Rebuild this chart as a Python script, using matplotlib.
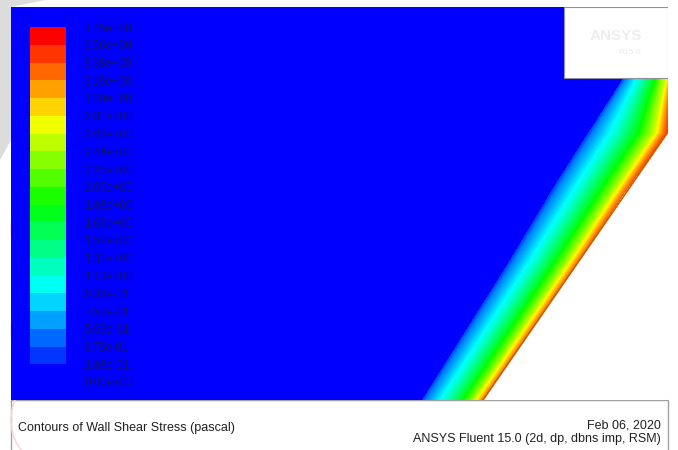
import numpy as np
import matplotlib
matplotlib.use('Agg')
import matplotlib.pyplot as plt
import matplotlib.colors as mcolors
from matplotlib.patches import Rectangle, Polygon

plt.rcParams['font.family'] = ['Liberation Sans', 'DejaVu Sans']

# colour bar levels (pascal)
levels = np.linspace(0.0, 3.75, 21)
level_labels = ['3.75e+00', '3.56e+00', '3.38e+00', '3.19e+00', '3.00e+00',
                '2.81e+00', '2.63e+00', '2.44e+00', '2.25e+00', '2.06e+00',
                '1.88e+00', '1.69e+00', '1.50e+00', '1.31e+00', '1.13e+00',
                '9.38e-01', '7.50e-01', '5.63e-01', '3.75e-01', '1.88e-01',
                '0.00e+00']

# geometry (pixel units, y down)
edge_y = [7, 80, 180, 260, 400]          # outer edge of the layer
edge_x = [668, 622, 558, 510, 422]
wall_y = [7, 80, 132, 200, 260, 400]     # wall
wall_x = [690, 675, 668, 620, 580, 483]

# stress across the layer (0 = outer edge, 1 = wall)
prof_s = [0.0, 0.06, 0.38, 0.62, 0.82, 0.97, 1.0]
prof_v = [0.19, 0.45, 1.1, 1.7, 2.4, 3.2, 3.3]
# rise of wall stress towards the top
rise_y = [7, 80, 200, 400]
rise_f = [1.12, 1.1, 1.03, 1.0]

W, H = 678, 450
fig = plt.figure(figsize=(W / 100, H / 100), dpi=100)
fig.patch.set_facecolor('white')

# background / frame axes in pixel coords
bg = fig.add_axes([0, 0, 1, 1])
bg.set_xlim(0, W)
bg.set_ylim(H, 0)
bg.axis('off')
# watermark traces on the left margin
bg.add_patch(Polygon([[0, 0], [45, 0], [11, 7], [11, 140], [0, 160]],
                     closed=True, color='#dcdcdc', lw=0))
for yc in [230, 330, 420]:
    t = np.linspace(-0.9, 0.9, 30)
    bg.plot(41 - 30 * np.cos(t), yc + 40 * np.sin(t), color='#f8d8d8', lw=1.2)
# bottom info panel
bg.add_patch(Rectangle((11, 400), 657, 60, facecolor='white', edgecolor='#a0a0a0', lw=1))
bg.text(18, 428, 'Contours of Wall Shear Stress (pascal)', fontsize=9,
        color='#202020', va='center', ha='left')
bg.text(661, 426, 'Feb 06, 2020', fontsize=9, color='#202020', va='center', ha='right')
bg.text(661, 439, 'ANSYS Fluent 15.0 (2d, dp, dbns imp, RSM)', fontsize=9,
        color='#202020', va='center', ha='right')

# main contour axes
ax = fig.add_axes([11 / W, 1 - 400 / H, 657 / W, 393 / H])
ax.set_facecolor('#0000ff')
ax.set_xlim(11, 668)
ax.set_ylim(400, 7)
ax.set_xticks([])
ax.set_yticks([])
for sp in ax.spines.values():
    sp.set_visible(False)

fluent = ['#0000ff', '#00ffff', '#00ff00', '#ffff00', '#ff0000']
cont_cmap = mcolors.LinearSegmentedColormap.from_list('fluent', fluent, 256)
cont_cmap.set_bad('white')

xs = np.arange(380, 669, 1.0)
ys = np.arange(7, 401, 1.0)
X, Y = np.meshgrid(xs, ys)
xe = np.interp(Y, edge_y, edge_x)
xw = np.interp(Y, wall_y, wall_x)
s = (X - xe) / (xw - xe)
val = np.interp(s, prof_s, prof_v, left=0.0, right=np.nan) * np.interp(Y, rise_y, rise_f)
val = np.ma.masked_invalid(val)
ax.pcolormesh(X, Y, val, cmap=cont_cmap, vmin=levels[0], vmax=levels[-1], shading='auto')
ax.plot([483, 668], [400, 132], color='#c46000', lw=1.2)

# logo box top right
ax.add_patch(Rectangle((564, 7), 104, 71, facecolor='white', edgecolor='#9090a0', lw=0.8))
ax.text(616, 36, 'ANSYS', fontsize=11, color='#eeeeee', ha='center', va='center', weight='bold')
ax.text(630, 52, 'R15.0', fontsize=6, color='#ebebeb', ha='center', va='center')

# colour bar
band_cmap = mcolors.ListedColormap(cont_cmap(np.linspace(0, 1, 20)))
cax = fig.add_axes([30 / W, 1 - 382 / H, 36 / W, 355 / H])
sm = plt.cm.ScalarMappable(norm=mcolors.BoundaryNorm(levels, 20), cmap=band_cmap)
cb = fig.colorbar(sm, cax=cax, ticks=levels)
cb.outline.set_visible(False)
cb.ax.set_yticklabels(level_labels[::-1])
cb.ax.tick_params(length=0, pad=13, labelsize=8.3, labelcolor='#101070')

fig.savefig('out.png', dpi=100)
